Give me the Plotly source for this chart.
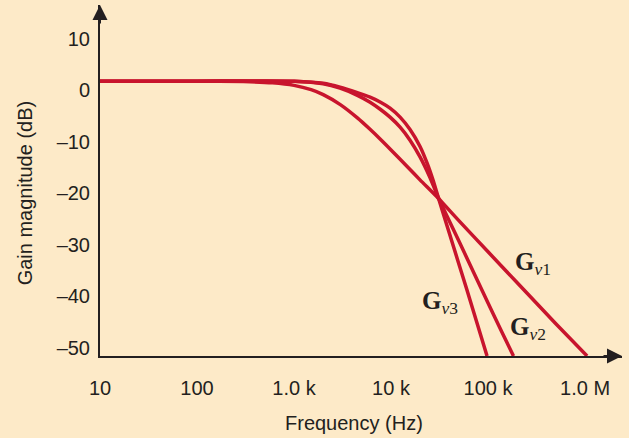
import math
import plotly.graph_objects as go

# ---- data ----
freq_v1 = [10, 100, 300, 600, 1000, 1500, 2000, 3000, 4500, 6000, 8000, 10000,
           15000, 20000, 30500, 50000, 100000, 200000, 500000, 1050000]
gain_v1 = [1.8, 1.8, 1.72, 1.48, 0.98, 0.14, -0.82, -2.76, -5.34, -7.46, -9.72, -11.56,
           -14.97, -17.42, -20.9, -25.3, -31.35, -37.37, -45.33, -51.6]

freq_v2 = [10, 100, 1000, 2000, 2980, 4500, 6080, 7800, 9770, 12400, 15700, 19900,
           25200, 30700, 40000, 60000, 100000, 140000, 183000]
gain_v2 = [1.8, 1.8, 1.8, 1.3, 0.44, -0.95, -2.28, -3.7, -5.19, -7.13, -9.66, -12.9,
           -16.9, -20.8, -25.4, -32.4, -41.3, -47.1, -51.6]

freq_v3 = [10, 100, 1000, 2000, 2980, 4500, 6080, 7800, 9770, 12400, 15700, 19900,
           23500, 27100, 30700, 40000, 60000, 97700]
gain_v3 = [1.8, 1.8, 1.8, 1.4, 0.63, -0.45, -1.31, -2.3, -3.44, -5.19, -7.6, -10.9,
           -14.1, -17.43, -20.8, -27.8, -38.5, -51.6]

x_tickvals = [10, 100, 1000, 10000, 100000, 1000000]
x_ticktext = ["10", "100", "1.0 k", "10 k", "100 k", "1.0 M"]
y_tickvals = [10, 0, -10, -20, -30, -40, -50]
y_ticktext = ["10", "0", "\u201310", "\u201320", "\u201330", "\u201340", "\u201350"]

BG = "#FDEAC8"
RED = "#C8142D"
INK = "#231F20"
SANS = "Liberation Sans, Arial, Helvetica, sans-serif"

fig = go.Figure()
for fx, gy in [(freq_v1, gain_v1), (freq_v2, gain_v2), (freq_v3, gain_v3)]:
    fig.add_trace(go.Scatter(x=fx, y=gy, mode="lines",
                             line=dict(color=RED, width=3.5, shape="spline", smoothing=0.6),
                             showlegend=False, hoverinfo="skip"))

fig.update_layout(
    width=629, height=438,
    margin=dict(l=100, r=7, t=5, b=82, autoexpand=False),
    paper_bgcolor=BG, plot_bgcolor=BG,
    font=dict(family=SANS, size=20, color=INK),
    showlegend=False,
)
fig.update_xaxes(type="log", range=[1, 6.381], showgrid=False, zeroline=False,
                 tickvals=x_tickvals, ticktext=x_ticktext, ticks="",
                 showline=True, linewidth=2, linecolor=INK,
                 ticklabelstandoff=13, tickfont=dict(family=SANS, size=20, color=INK))
fig.update_yaxes(range=[-51.6, 16.6], showgrid=False, zeroline=False,
                 tickvals=y_tickvals, ticktext=y_ticktext, ticks="",
                 showline=True, linewidth=2, linecolor=INK,
                 ticklabelstandoff=4, tickfont=dict(family=SANS, size=20, color=INK))

# arrow heads on axes
fig.add_annotation(xref="paper", yref="paper", x=1, y=0, ax=-20, ay=0,
                   axref="pixel", ayref="pixel", showarrow=True, arrowhead=2,
                   arrowsize=1.5, arrowwidth=2, arrowcolor=INK, text="")
fig.add_annotation(xref="paper", yref="paper", x=0, y=1, ax=0, ay=20,
                   axref="pixel", ayref="pixel", showarrow=True, arrowhead=2,
                   arrowsize=1.5, arrowwidth=2, arrowcolor=INK, text="")

# axis titles
fig.add_annotation(xref="paper", yref="y", x=0, y=-20, xshift=-75, textangle=-90,
                   text="Gain magnitude (dB)", showarrow=False,
                   font=dict(family=SANS, size=20, color=INK),
                   xanchor="center", yanchor="middle")
fig.add_annotation(xref="x", yref="paper", x=math.log10(4200), y=0, yshift=-67,
                   text="Frequency (Hz)", showarrow=False,
                   font=dict(family=SANS, size=20, color=INK),
                   xanchor="center", yanchor="middle")

# curve labels
serif = dict(family="Liberation Serif, Times New Roman, serif", size=25, color=INK)
fig.add_annotation(x=math.log10(291000), y=-33.7, text="<b>G</b><sub><i>v</i>1</sub>",
                   showarrow=False, font=serif)
fig.add_annotation(x=math.log10(32000), y=-41.3, text="<b>G</b><sub><i>v</i>3</sub>",
                   showarrow=False, font=serif)
fig.add_annotation(x=math.log10(258000), y=-46.2, text="<b>G</b><sub><i>v</i>2</sub>",
                   showarrow=False, font=serif)

fig.write_html("out.html", config={"displayModeBar": False},
               post_script="document.body.style.margin='0px';")
